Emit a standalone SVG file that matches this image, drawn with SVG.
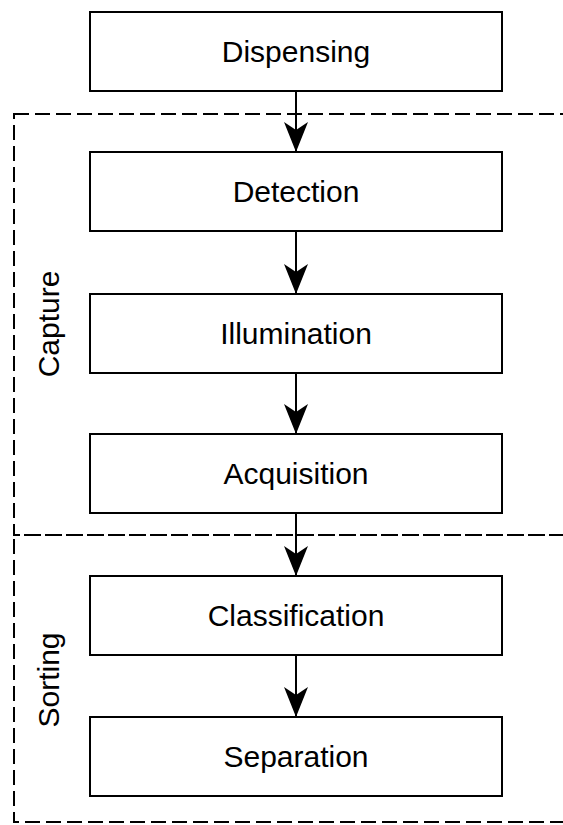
<svg xmlns="http://www.w3.org/2000/svg" width="563" height="825" viewBox="0 0 563 825">
<style>
.box{fill:#fff;stroke:#000;stroke-width:2}
.grp{fill:none;stroke:#000;stroke-width:2;stroke-dasharray:15 6}
.lbl{font-family:"Liberation Sans",Arial,sans-serif;font-size:30px;fill:#000;text-anchor:middle}
.conn{stroke:#000;stroke-width:2;fill:none;marker-end:url(#ah)}
</style>
<defs>
<marker id="ah" markerUnits="userSpaceOnUse" markerWidth="30" markerHeight="24" viewBox="0 -12 30 24" refX="30" refY="0" orient="auto">
<path d="M0,-12 L30,0 L0,12 L8,0 Z" fill="#000"/>
</marker>
</defs>
<rect width="563" height="825" fill="#fff"/>
<g id="capture">
<rect class="grp" x="14" y="114" width="600" height="421"/>
<text class="lbl" transform="translate(59,324) rotate(-90)">Capture</text>
</g>
<g id="sorting">
<rect class="grp" x="14" y="535" width="600" height="287" style="stroke-dashoffset:9"/>
<text class="lbl" transform="translate(59,680) rotate(-90)">Sorting</text>
</g>
<g id="dispensing">
<rect class="box" x="90" y="12" width="412" height="79"/>
<text class="lbl" x="296" y="62">Dispensing</text>
</g>
<g id="detection">
<rect class="box" x="90" y="152" width="412" height="79"/>
<text class="lbl" x="296" y="202">Detection</text>
</g>
<g id="illumination">
<rect class="box" x="90" y="294" width="412" height="79"/>
<text class="lbl" x="296" y="344">Illumination</text>
</g>
<g id="acquisition">
<rect class="box" x="90" y="434" width="412" height="79"/>
<text class="lbl" x="296" y="484">Acquisition</text>
</g>
<g id="classification">
<rect class="box" x="90" y="576" width="412" height="79"/>
<text class="lbl" x="296" y="626">Classification</text>
</g>
<g id="separation">
<rect class="box" x="90" y="717" width="412" height="79"/>
<text class="lbl" x="296" y="767">Separation</text>
</g>
<g id="connectors">
<line class="conn" x1="296" y1="91" x2="296" y2="152"/>
<line class="conn" x1="296" y1="231" x2="296" y2="294"/>
<line class="conn" x1="296" y1="373" x2="296" y2="434"/>
<line class="conn" x1="296" y1="513" x2="296" y2="576"/>
<line class="conn" x1="296" y1="655" x2="296" y2="717"/>
</g>
</svg>
